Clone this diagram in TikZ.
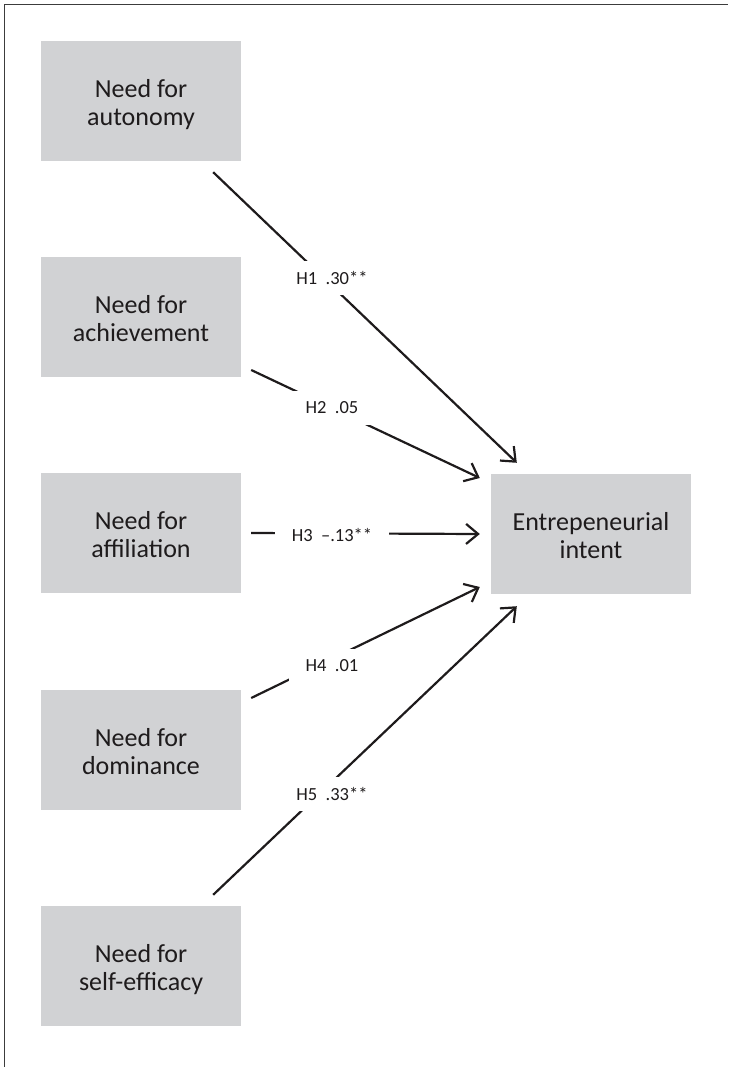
\documentclass[tikz,border=0pt]{standalone}
\usepackage{fontspec}
\setmainfont{Carlito}
\usetikzlibrary{arrows.meta,calc}
\definecolor{boxgray}{HTML}{D1D2D4}
\definecolor{ink}{HTML}{1E1B1C}
\definecolor{rule}{HTML}{3C3C3C}
% two centred lines, first baseline placed just above the box centre
\newcommand{\factortext}[2]{\raisebox{3.5pt}[0pt][0pt]{%
  \begin{tabular}[t]{@{}c@{}}#1\\#2\end{tabular}}}
\begin{document}
\begin{tikzpicture}[x=1pt,y=-1pt,
  factor/.style={fill=boxgray, minimum width=200pt, minimum height=120pt,
    inner sep=0pt, text=ink, font=\fontsize{26}{28}\selectfont},
  link/.style={draw=ink, line width=2.2pt,
    -{Straight Barb[length=12pt,width=20pt]}},
  coef/.style={fill=white, inner xsep=17pt, inner ysep=0pt,
    minimum height=34pt, text=ink, font=\fontsize{18.5}{20}\selectfont},
  frameline/.style={draw=rule, line width=1.3pt}
]
\useasboundingbox (0,0) rectangle (728,1067);
% partial frame: left and top edges
\draw[frameline] (4.5,1067) -- (4.5,4.5) -- (728,4.5);

% predictor boxes
\node[factor] (aut) at (141,101) {\factortext{Need for}{autonomy}};
\node[factor] (ach) at (141,317) {\factortext{Need for}{achievement}};
\node[factor] (aff) at (141,533) {\factortext{Need for}{affiliation}};
\node[factor] (dom) at (141,750) {\factortext{Need for}{dominance}};
\node[factor] (eff) at (141,966) {\factortext{Need for}{self-efficacy}};
% outcome box
\node[factor] (ei) at (591,534) {\factortext{Entrepeneurial}{intent}};

% arrow start and end points
\coordinate (s1) at ($(aut.south east)+(-28,11)$);
\coordinate (s2) at ($(ach.east)+(10,53)$);
\coordinate (s3) at ($(aff.east)+(10,0)$);
\coordinate (s4) at ($(dom.east)+(10,-52)$);
\coordinate (s5) at ($(eff.north east)+(-28,-11)$);
\coordinate (t1) at ($(ei.north west)+(26,-11)$);
\coordinate (t2) at ($(ei.west)+(-11,-56)$);
\coordinate (t3) at ($(ei.west)+(-11,0)$);
\coordinate (t4) at ($(ei.west)+(-11,53)$);
\coordinate (t5) at ($(ei.south west)+(26,12)$);

\draw[link] (s1) -- (t1);
\draw[link] (s2) -- (t2);
\draw[link] (s3) -- (t3);
\draw[link] (s4) -- (t4);
\draw[link] (s5) -- (t5);

% path coefficients
\node[coef] (h1) at (332,278) {H1\hspace{0.45em}.30**};
\node[coef] (h2) at (332,408) {H2\hspace{0.45em}.05};
\node[coef] (h3) at (332,535) {H3\hspace{0.45em}–.13**};
\node[coef] (h4) at (332,666) {H4\hspace{0.45em}.01};
\node[coef] (h5) at (332,794) {H5\hspace{0.45em}.33**};
\end{tikzpicture}
\end{document}
